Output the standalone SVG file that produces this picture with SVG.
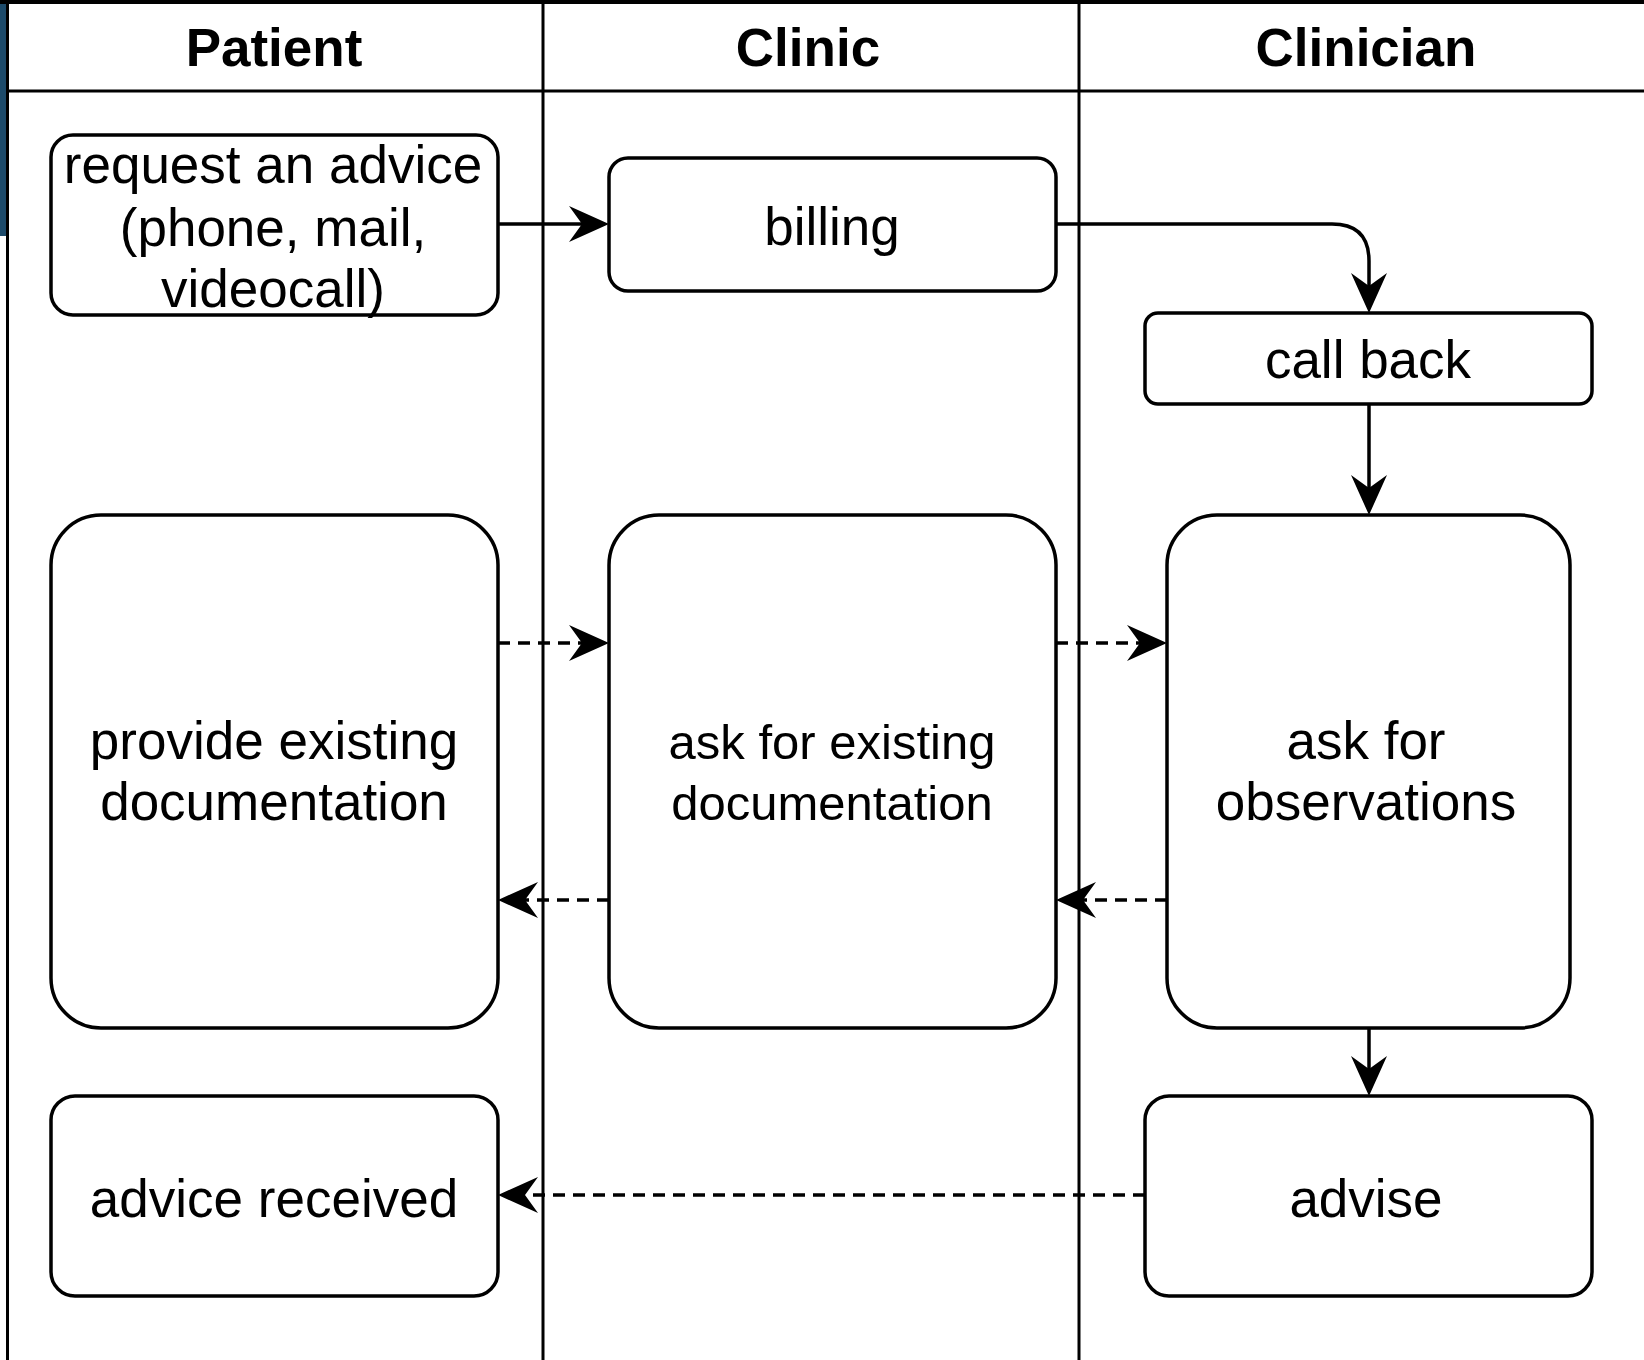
<svg xmlns="http://www.w3.org/2000/svg" width="1644" height="1360" viewBox="0 0 1644 1360">
<defs>
<style>
.lane{stroke:#000;stroke-width:3;fill:none}
.node rect{fill:#fff;stroke:#000;stroke-width:3.5}
.t{font-family:"Liberation Sans",Arial,sans-serif;font-size:53px;fill:#000;text-anchor:middle}
.h{font-family:"Liberation Sans",Arial,sans-serif;font-size:53px;font-weight:bold;fill:#000;text-anchor:middle}
.c{stroke:#000;stroke-width:3.5;fill:none;marker-end:url(#arr)}
.d{stroke-dasharray:12 8}
</style>
<marker id="arr" markerUnits="userSpaceOnUse" markerWidth="42" markerHeight="38" refX="30" refY="18" orient="auto">
<path d="M40,18 L0,0 L13,18 L0,36 Z" fill="#000"/>
</marker>
</defs>
<rect x="0" y="0" width="1644" height="1360" fill="#fff"/>
<rect x="0" y="0" width="6" height="236" fill="#1d4b6b"/>
<g id="lanes">
<rect x="0" y="0" width="1644" height="4" fill="#000"/>
<line class="lane" x1="7.5" y1="0" x2="7.5" y2="1360"/>
<line class="lane" x1="7" y1="91" x2="1644" y2="91"/>
<line class="lane" x1="543" y1="0" x2="543" y2="1360"/>
<line class="lane" x1="1079" y1="0" x2="1079" y2="1360"/>
<text class="h" x="274" y="66">Patient</text>
<text class="h" x="808" y="66">Clinic</text>
<text class="h" x="1366" y="66">Clinician</text>
</g>
<g id="connectors">
<line class="c" x1="498" y1="224" x2="599" y2="224"/>
<path class="c" d="M1056,224 H1332 Q1369,224 1369,261 V303"/>
<line class="c" x1="1369" y1="404" x2="1369" y2="505"/>
<line class="c" x1="1369" y1="1028" x2="1369" y2="1086"/>
<line class="c d" x1="498" y1="643" x2="599" y2="643"/>
<line class="c d" x1="1056" y1="643" x2="1157" y2="643"/>
<line class="c d" x1="1167" y1="900" x2="1066" y2="900"/>
<line class="c d" x1="609" y1="900" x2="508" y2="900"/>
<line class="c d" x1="1145" y1="1195" x2="508" y2="1195"/>
</g>
<g id="node-request" class="node">
<rect x="51" y="135" width="447" height="180" rx="22"/>
<text class="t" x="273" y="183">request an advice</text>
<text class="t" x="273" y="246">(phone, mail,</text>
<text class="t" x="273" y="307">videocall)</text>
</g>
<g id="node-billing" class="node">
<rect x="609" y="158" width="447" height="133" rx="19"/>
<text class="t" x="832" y="245">billing</text>
</g>
<g id="node-callback" class="node">
<rect x="1145" y="313" width="447" height="91" rx="13"/>
<text class="t" x="1368" y="378">call back</text>
</g>
<g id="node-provide" class="node">
<rect x="51" y="515" width="447" height="513" rx="50"/>
<text class="t" x="274" y="759">provide existing</text>
<text class="t" x="274" y="820">documentation</text>
</g>
<g id="node-askdoc" class="node">
<rect x="609" y="515" width="447" height="513" rx="50"/>
<text class="t" x="832" y="759" style="font-size:49px">ask for existing</text>
<text class="t" x="832" y="820" style="font-size:49px">documentation</text>
</g>
<g id="node-askobs" class="node">
<rect x="1167" y="515" width="403" height="513" rx="50"/>
<text class="t" x="1366" y="759">ask for</text>
<text class="t" x="1366" y="820">observations</text>
</g>
<g id="node-received" class="node">
<rect x="51" y="1096" width="447" height="200" rx="24"/>
<text class="t" x="274" y="1217">advice received</text>
</g>
<g id="node-advise" class="node">
<rect x="1145" y="1096" width="447" height="200" rx="24"/>
<text class="t" x="1366" y="1217">advise</text>
</g>
</svg>
